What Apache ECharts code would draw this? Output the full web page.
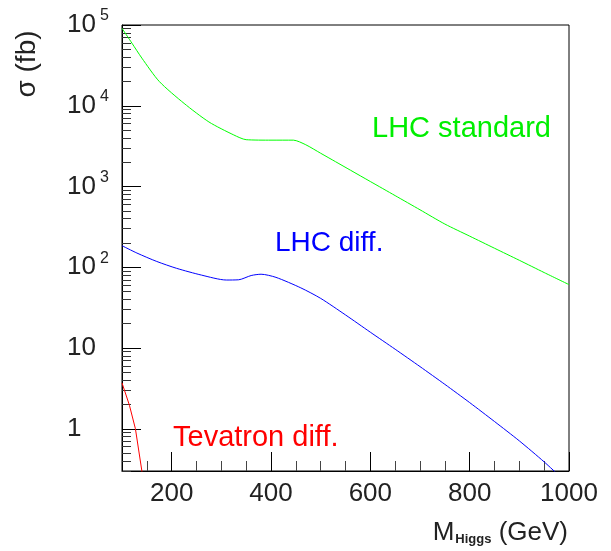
<!DOCTYPE html>
<html><head><meta charset="utf-8">
<script src="https://cdn.jsdelivr.net/npm/echarts@6/dist/echarts.min.js"></script>
<style>html,body{margin:0;padding:0;background:#fff}#c{width:611px;height:551px}</style>
</head><body><div id="c"></div>
<script>
// LHC standard
const stdMass = [100,120,140,175,225,275,325,350,400,445,470,500,530,560,600,650,700,750,800,850,900,950,1000];
const stdXsec = [91000,59600,38900,20000,10700,6300,4350,3800,3750,3750,3289,2582,2028,1592,1153,771,515,343,243,172,122,86,61];
// LHC diff.
const diffMass = [100,130,170,210,260,310,335,360,380,410,460,500,550,600,650,700,750,800,850,900,950,980];
const diffXsec = [185,150,118,97,80,69.5,70,79,82,75,55.6,41.2,25.7,15.7,9.66,5.89,3.55,2.11,1.23,0.708,0.389,0.263];
// Tevatron diff.
const tevMass = [100,115,127,142];
const tevXsec = [3.7,1.95,1.0,0.25];

const xMajorTicks = [200,400,600,800,1000];
const xMinorTicks = [150,250,300,350,450,500,550,650,700,750,850,900,950];
const yMajorTicks = [1,10,100,1000,10000,100000];
const yMinorTicks = [];
for (let e = -1; e <= 4; e++) for (let m = 2; m <= 9; m++) { const v = +(m * Math.pow(10, e)).toPrecision(3); if (v >= 0.3) yMinorTicks.push(v); }

const FONT = 'Liberation Sans';
const pair = (xs, ys) => xs.map((x, i) => [x, ys[i]]);

const chart = echarts.init(document.getElementById('c'), null, {renderer: 'canvas'});
chart.setOption({
  animation: false,
  backgroundColor: '#fff',
  grid: {left: 122, right: 42, top: 25, bottom: 80, show: true, borderColor: '#000', borderWidth: 1, backgroundColor: 'transparent'},
  xAxis: [{
    type: 'value', min: 100, max: 1000, interval: 50,
    axisLine: {lineStyle: {color: '#000', width: 1}},
    axisTick: {inside: true, length: 19, lineStyle: {color: '#000'}, customValues: xMajorTicks},
    axisLabel: {customValues: xMajorTicks, formatter: v => String(v), fontFamily: FONT, fontSize: 26, color: '#222', margin: 10},
    splitLine: {show: false}
  }, {
    type: 'value', min: 100, max: 1000, interval: 50, position: 'bottom',
    axisLine: {show: false},
    axisTick: {inside: true, length: 10, lineStyle: {color: '#444'}, customValues: xMinorTicks},
    axisLabel: {show: false},
    splitLine: {show: false}
  }],
  yAxis: [{
    type: 'log', min: 0.3, max: 100000, logBase: 10,
    axisLine: {show: true, lineStyle: {color: '#000', width: 1}},
    axisTick: {show: true, inside: true, length: 19, lineStyle: {color: '#000'}, customValues: yMajorTicks},
    axisLabel: {
      customValues: yMajorTicks, align: 'left', margin: 55,
      formatter: v => v >= 100 ? '{b|10}{e|' + Math.round(Math.log10(v)) + '}' : '{b|' + Math.round(v) + '}',
      rich: {
        b: {fontFamily: FONT, fontSize: 26, color: '#222', lineHeight: 34},
        e: {fontFamily: FONT, fontSize: 16, color: '#222', lineHeight: 16, verticalAlign: 'top', padding: [0, 0, 0, 4]}
      }
    },
    splitLine: {show: false}, minorTick: {show: false}
  }, {
    type: 'log', min: 0.3, max: 100000, logBase: 10, position: 'left',
    axisLine: {show: false},
    axisTick: {show: true, inside: true, length: 9, lineStyle: {color: '#333'}, customValues: yMinorTicks},
    axisLabel: {show: false},
    splitLine: {show: false}
  }],
  series: [
    {name: 'LHC standard', type: 'line', data: pair(stdMass, stdXsec), showSymbol: false, smooth: 0.25, clip: true, lineStyle: {color: '#00ff00', width: 1}},
    {name: 'LHC diff.', type: 'line', data: pair(diffMass, diffXsec), showSymbol: false, smooth: 0.25, clip: true, lineStyle: {color: '#0000ff', width: 1}},
    {name: 'Tevatron diff.', type: 'line', data: pair(tevMass, tevXsec), showSymbol: false, smooth: false, clip: true, lineStyle: {color: '#ff0000', width: 1}}
  ],
  graphic: [
    {type: 'text', x: 372, y: 129, style: {text: 'LHC standard', fill: '#00ee00', font: '29px "' + FONT + '"', verticalAlign: 'middle', align: 'left'}},
    {type: 'text', x: 275, y: 243, style: {text: 'LHC diff.', fill: '#0000ff', font: '28px "' + FONT + '"', verticalAlign: 'middle', align: 'left'}},
    {type: 'text', x: 173, y: 438, style: {text: 'Tevatron diff.', fill: '#ff0000', font: '29px "' + FONT + '"', verticalAlign: 'middle', align: 'left'}},
    {type: 'text', x: 27, y: 64, rotation: Math.PI / 2, style: {text: 'σ (fb)', fill: '#222', font: '28px "' + FONT + '"', verticalAlign: 'middle', align: 'center'}},
    {type: 'text', x: 568, y: 533, style: {
      text: '{b|M}{s|Higgs}{b| (GeV)}', align: 'right', verticalAlign: 'middle',
      rich: {
        b: {fontFamily: FONT, fontSize: 26, fill: '#222', lineHeight: 30},
        s: {fontFamily: FONT, fontSize: 13, fontWeight: 'bold', fill: '#222', lineHeight: 13, verticalAlign: 'bottom', padding: [0, 0, 2, 1]}
      }
    }}
  ]
});
</script></body></html>
